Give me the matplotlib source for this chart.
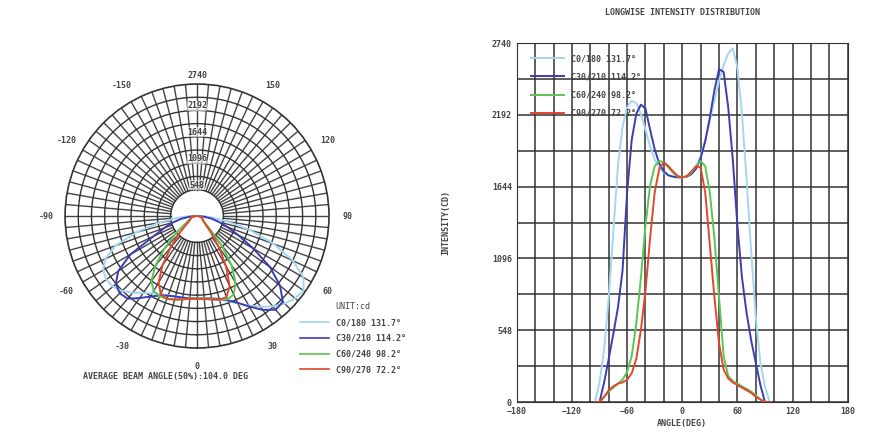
import numpy as np
import matplotlib
matplotlib.use('Agg')
import matplotlib.pyplot as plt
from matplotlib.lines import Line2D

# gamma angles (deg), shared by every C-plane
ANGLES = [-95, -90, -85, -80, -75, -70, -65, -60, -55, -50, -45, -40, -35, -30, -25, -20,
          -15, -10, -5, 0, 5, 10, 15, 20, 25, 30, 35, 40, 45, 50, 55, 60, 65, 70, 75,
          80, 85, 90, 95]

C0_180 = [0, 150, 400, 800, 1300, 1800, 2100, 2250, 2300, 2280, 2200, 2080, 1950, 1850,
          1790, 1750, 1730, 1720, 1715, 1715, 1720, 1740, 1790, 1880, 2000, 2150, 2300,
          2450, 2570, 2660, 2700, 2550, 2200, 1700, 1150, 650, 300, 120, 0]
C30_210 = [0, 0, 150, 330, 520, 720, 1000, 1600, 2000, 2200, 2270, 2240, 2080, 1930,
           1820, 1760, 1730, 1720, 1715, 1715, 1720, 1740, 1780, 1860, 1990, 2170, 2380,
           2540, 2520, 2250, 1850, 1350, 950, 680, 470, 300, 130, 0, 0]
C60_240 = [0, 0, 40, 80, 110, 140, 170, 230, 350, 600, 950, 1350, 1650, 1800, 1840,
           1830, 1790, 1750, 1720, 1715, 1720, 1750, 1800, 1840, 1800, 1600, 1250, 800,
           350, 200, 160, 140, 120, 100, 80, 50, 20, 0, 0]
C90_270 = [0, 0, 40, 90, 120, 140, 150, 170, 220, 330, 550, 850, 1250, 1600, 1780, 1830,
           1800, 1760, 1725, 1715, 1725, 1760, 1800, 1790, 1600, 1200, 800, 450, 250, 180,
           150, 130, 110, 90, 70, 40, 20, 0, 0]

SERIES = [C0_180, C30_210, C60_240, C90_270]
SERIES_NAMES = ['C0/180 131.7\u00b0', 'C30/210 114.2\u00b0', 'C60/240 98.2\u00b0', 'C90/270 72.2\u00b0']
COLORS = ['#a4d6ef', '#3c3cb4', '#5cc452', '#e2462c']

R_MAX = 2740
R_TICKS = [548, 1096, 1644, 2192, 2740]
POLAR_LABELS = [-150, -120, -90, -60, -30, 0, 30, 60, 90, 120, 150]
X_TICKS = [-180, -120, -60, 0, 60, 120, 180]

FONT = dict(family='DejaVu Sans Mono', fontweight='bold', color='#444444')
PROP = dict(family='DejaVu Sans Mono', weight='bold', size=6)

fig = plt.figure(figsize=(8.73, 4.37), dpi=100)

# ---- polar plot ----
ax_p = fig.add_axes([0.0745, 0.2037, 0.3024, 0.604], projection='polar')
ax_p.set_theta_zero_location('S')
ax_p.set_theta_direction(1)
ax_p.set_ylim(0, R_MAX)
ax_p.grid(False)
ax_p.set_xticks([])
ax_p.set_yticks([])
ax_p.spines['polar'].set_color('#333333')
ax_p.spines['polar'].set_linewidth(1.2)

full = np.linspace(0, 2 * np.pi, 361)
for a in range(0, 360, 5):
    t = np.deg2rad(a)
    ax_p.plot([t, t], [548, R_MAX], color='#444444', lw=1.0, zorder=1)
for r in range(548, R_MAX, 274):
    ax_p.plot(full, [r] * len(full), color='#333333', lw=1.0, zorder=1)

theta = np.deg2rad(ANGLES)
for vals, col in zip(SERIES, COLORS):
    ax_p.plot(theta, vals, color=col, lw=1.4, zorder=3)

for r in R_TICKS:
    off = 90 if r == R_MAX else 0
    ax_p.text(np.pi, r + off, str(r), fontsize=6, ha='center', va='bottom', zorder=4,
              bbox=dict(facecolor='white', edgecolor='none', pad=0.3, alpha=0.6), **FONT)
for a in POLAR_LABELS:
    ax_p.text(np.deg2rad(a), R_MAX * 1.14, str(a), fontsize=6, ha='center', va='center', **FONT)

fig.text(0.19, 0.138, 'AVERAGE BEAM ANGLE(50%):104.0 DEG', fontsize=6, ha='center', va='center', **FONT)

handles = [Line2D([0], [0], color=c, lw=1.2) for c in COLORS]
leg = fig.legend(handles, SERIES_NAMES, title='UNIT:cd', loc='upper left',
                 bbox_to_anchor=(0.335, 0.325), frameon=False,
                 title_fontsize=6, handlelength=3.5, labelspacing=0.8, prop=PROP)
for t in leg.get_texts():
    t.set_color('#444444')
leg.get_title().set_fontfamily('DejaVu Sans Mono')
leg.get_title().set_color('#444444')

# ---- cartesian plot ----
ax = fig.add_axes([0.592, 0.080, 0.379, 0.8215])
for vals, col, name in zip(SERIES, COLORS, SERIES_NAMES):
    ax.plot(ANGLES, vals, color=col, lw=1.4, label=name, zorder=3)
ax.set_xlim(-180, 180)
ax.set_ylim(0, R_MAX)
ax.set_xticks(X_TICKS)
ax.set_xticks(np.arange(-180, 181, 20), minor=True)
ax.set_yticks([0] + R_TICKS)
ax.set_yticks(np.arange(0, R_MAX + 1, 274), minor=True)
ax.grid(True, which='both', color='#333333', lw=1.1)
ax.tick_params(which='both', length=0, labelsize=6, labelcolor='#444444')
for lab in ax.get_xticklabels() + ax.get_yticklabels():
    lab.set_fontfamily('DejaVu Sans Mono')
    lab.set_fontweight('bold')
for s in ax.spines.values():
    s.set_color('#333333')
ax.set_title('LONGWISE INTENSITY DISTRIBUTION', fontsize=6, pad=20, **FONT)
ax.set_xlabel('ANGLE(DEG)', fontsize=6, labelpad=2, **FONT)
ax.set_ylabel('INTENSITY(CD)', fontsize=6, labelpad=30, **FONT)
lg = ax.legend(loc='upper left', bbox_to_anchor=(0.02, 0.99), frameon=False,
               handlelength=4, labelspacing=1.1, prop=PROP)
for t in lg.get_texts():
    t.set_color('#444444')

fig.savefig('out.png', dpi=100)
